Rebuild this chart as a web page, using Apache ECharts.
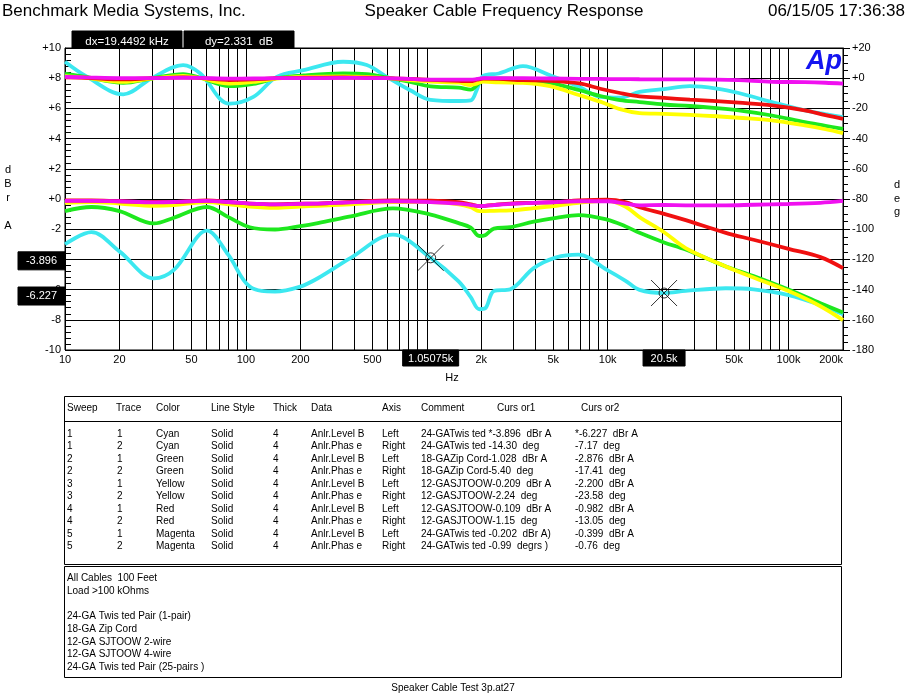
<!DOCTYPE html>
<html><head><meta charset="utf-8">
<script src="https://cdn.jsdelivr.net/npm/echarts@6/dist/echarts.min.js"></script>
<style>html,body{margin:0;padding:0;background:#fff}#c{width:907px;height:698px}</style>
</head><body><div id="c"></div>
<script>
// ---------- DATA ----------
const levelFreq = [10, 14, 20, 31, 40, 61, 80, 105, 145, 200, 250, 380, 650, 1050, 1500, 1750, 1950, 2100, 2350, 2900, 3900, 5200, 6900, 9900, 12500, 15000, 20500, 27000, 45000, 64000, 100000, 150000, 200000];
const cyanLevel    = [-3.0, -2.2, -3.47, -5.25, -4.69, -2.1, -3.7, -5.8, -6.13, -5.8, -5.25, -3.9, -2.36, -3.896, -5.45, -6.5, -7.3, -7.25, -6.1, -5.98, -4.58, -3.87, -3.69, -4.69, -5.4, -6.02, -6.227, -6.09, -5.91, -5.98, -6.36, -7.02, -7.64];
const greenLevel   = [-0.8, -0.53, -0.8, -1.62, -1.24, -0.53, -1.2, -1.87, -2.02, -1.8, -1.6, -1.15, -0.62, -1.028, -1.6, -1.9, -2.45, -2.4, -1.96, -1.87, -1.5, -1.25, -1.07, -1.36, -1.8, -2.24, -2.876, -3.35, -4.47, -5.1, -6.0, -6.9, -7.51];
const yellowLevel  = [-0.25, -0.2, -0.3, -0.45, -0.4, -0.2, -0.35, -0.5, -0.58, -0.5, -0.45, -0.35, -0.2, -0.209, -0.35, -0.55, -0.8, -0.8, -0.78, -0.76, -0.6, -0.45, -0.25, -0.13, -0.5, -1.2, -2.2, -3.25, -4.47, -5.2, -6.1, -7.1, -8.02];
const redLevel     = [-0.1, -0.1, -0.15, -0.2, -0.2, -0.1, -0.2, -0.3, -0.35, -0.3, -0.3, -0.2, -0.1, -0.109, -0.2, -0.35, -0.47, -0.45, -0.4, -0.3, -0.25, -0.2, -0.1, -0.05, -0.2, -0.55, -0.982, -1.4, -2.24, -2.7, -3.3, -3.85, -4.58];
const magentaLevel = [-0.13, -0.12, -0.15, -0.22, -0.2, -0.12, -0.2, -0.3, -0.35, -0.32, -0.3, -0.22, -0.15, -0.202, -0.3, -0.4, -0.47, -0.45, -0.4, -0.32, -0.25, -0.2, -0.15, -0.15, -0.3, -0.42, -0.399, -0.42, -0.42, -0.38, -0.33, -0.25, -0.13];

const phaseFreq = [10, 13, 21, 30, 45, 56, 81, 110, 148, 208, 345, 466, 600, 810, 1050, 1500, 1750, 1900, 2050, 2500, 3400, 4800, 7000, 9100, 11700, 15000, 20500, 28500, 40000, 53000, 81000, 123000, 160000, 200000];
const cyanPhase    = [10.9, 1.5, -10.7, -0.2, 8.7, 3.1, -16.9, -12.4, 0.9, 5.3, 10.9, 8.7, 0.9, -8, -14.3, -15.1, -14.7, -7, 1.5, 3.1, 8, 2, -5.8, -12.4, -12.9, -9.1, -7.17, -5.3, -6.9, -9.8, -15.8, -21.3, -23.8, -25.8];
const greenPhase   = [3.1, 0.8, -3.1, -0.2, 2.7, 0.3, -5.3, -3.8, 0, 1.8, 3.1, 2.7, 0.5, -2.5, -5.4, -6.2, -7.6, -4.5, -1.3, -0.2, -0.9, -3.1, -8, -11.8, -14.5, -15.8, -17.41, -18.4, -19.8, -21.3, -24.7, -29.1, -31.5, -33.6];
const yellowPhase  = [1.3, 0.3, -2.4, -0.3, 1.5, 0, -3.5, -2.5, -0.2, 0.8, 1.2, 0.8, 0, -1.2, -2.24, -3.0, -4.5, -3.5, -2.2, -2.8, -3.1, -5.3, -11.3, -15.5, -20.5, -23.1, -23.58, -24.3, -25.2, -26.2, -28, -31.3, -33.8, -36.4];
const redPhase     = [0.5, 0.3, -0.8, 0, 0.5, 0.2, -1.2, -0.8, 0, 0.3, 0.5, 0.3, 0, -0.5, -1.15, -1.8, -2.0, -1.0, -0.3, -0.5, -1.3, -1.7, -3.5, -7, -9.8, -12, -13.05, -14.2, -15.2, -16.2, -18, -21.3, -24.5, -26.9];
const magentaPhase = [0.9, 0.5, 0, 0, 0.3, 0.2, -0.3, -0.2, 0, 0, 0.2, 0.1, 0, -0.5, -0.99, -1.0, -1.0, -0.5, 0, 0, 0, -0.2, -0.4, -0.5, -0.6, -0.7, -0.76, -0.8, -0.9, -1.3, -2.4, -2.6, -3.0, -3.6];

const gridFreqs = [10, 20, 30, 40, 50, 60, 70, 80, 90, 100, 200, 300, 400, 500, 600, 700, 800, 900, 1000, 2000, 3000, 4000, 5000, 6000, 7000, 8000, 9000, 10000, 20000, 30000, 40000, 50000, 60000, 70000, 80000, 90000, 100000, 200000];
const xLabelFreqs = [10, 20, 50, 100, 200, 500, 1000, 2000, 5000, 10000, 20000, 50000, 100000, 200000];
const xLabelTexts = ['10', '20', '50', '100', '200', '500', '1k', '2k', '5k', '10k', '20k', '50k', '100k', '200k'];

const cursorFreq = [1050.75, 20500];
const cursorLevel = [-3.896, -6.227];
const cursorFreqText = ['1.05075k', '20.5k'];
const cursorLevelText = ['-3.896', '-6.227'];
const deltaTexts = ['dx=19.4492 kHz', 'dy=2.331  dB'];

const titleLeft = 'Benchmark Media Systems, Inc.';
const titleCenter = 'Speaker Cable Frequency Response';
const titleRight = '06/15/05 17:36:38';
const footer = 'Speaker Cable Test 3p.at27';

const tableHeader = ['Sweep', 'Trace', 'Color', 'Line Style', 'Thick', 'Data', 'Axis', 'Comment', 'Curs or1', 'Curs or2'];
const tableSweep = ['1', '1', '2', '2', '3', '3', '4', '4', '5', '5'];
const tableTrace = ['1', '2', '1', '2', '1', '2', '1', '2', '1', '2'];
const tableColor = ['Cyan', 'Cyan', 'Green', 'Green', 'Yellow', 'Yellow', 'Red', 'Red', 'Magenta', 'Magenta'];
const tableStyle = ['Solid', 'Solid', 'Solid', 'Solid', 'Solid', 'Solid', 'Solid', 'Solid', 'Solid', 'Solid'];
const tableThick = ['4', '4', '4', '4', '4', '4', '4', '4', '4', '4'];
const tableData = ['Anlr.Level B', 'Anlr.Phas e', 'Anlr.Level B', 'Anlr.Phas e', 'Anlr.Level B', 'Anlr.Phas e', 'Anlr.Level B', 'Anlr.Phas e', 'Anlr.Level B', 'Anlr.Phas e'];
const tableAxis = ['Left', 'Right', 'Left', 'Right', 'Left', 'Right', 'Left', 'Right', 'Left', 'Right'];
const tableComment = ['24-GATwis ted *-3.896  dBr A', '24-GATwis ted -14.30  deg', '18-GAZip Cord-1.028  dBr A', '18-GAZip Cord-5.40  deg', '12-GASJTOOW-0.209  dBr A', '12-GASJTOOW-2.24  deg', '12-GASJTOOW-0.109  dBr A', '12-GASJTOOW-1.15  deg', '24-GATwis ted -0.202  dBr A)', '24-GATwis ted -0.99  degrs )'];
const tableCursor2 = ['*-6.227  dBr A', '-7.17  deg', '-2.876  dBr A', '-17.41  deg', '-2.200  dBr A', '-23.58  deg', '-0.982  dBr A', '-13.05  deg', '-0.399  dBr A', '-0.76  deg'];
const notes = ['All Cables  100 Feet', 'Load >100 kOhms', '', '24-GA Twis ted Pair (1-pair)', '18-GA Zip Cord', '12-GA SJTOOW 2-wire', '12-GA SJTOOW 4-wire', '24-GA Twis ted Pair (25-pairs )'];

// ---------- CHART ----------
const FONT = '"Liberation Sans", Arial, sans-serif';
const L = f => Math.log10(f);
const pairs = (fs, vs) => fs.map((f, i) => [L(f), vs[i]]);
const COLORS = {cyan: '#3ce8f0', green: '#1ee81e', yellow: '#ffff00', red: '#f01010', magenta: '#f010f0'};
const signFmt = v => (v >= 0 ? '+' + v : String(v));

function curve(name, fs, vs, color, axis) {
  return {
    name, type: 'line', yAxisIndex: axis, data: pairs(fs, vs),
    showSymbol: false, symbol: 'none', smooth: 0.35, z: 10,
    lineStyle: {color, width: 3.8}, itemStyle: {color}, silent: true
  };
}

const chart = echarts.init(document.getElementById('c'), null, {renderer: 'canvas'});
const option = {
  animation: false,
  backgroundColor: '#fff',
  grid: {left: 65, top: 48, width: 778, height: 302, show: true, borderColor: '#000', borderWidth: 1, backgroundColor: 'transparent'},
  xAxis: {
    type: 'value', min: 1, max: L(200000),
    axisLine: {show: true, lineStyle: {color: '#000', width: 1}},
    axisTick: {show: false}, splitLine: {show: false},
    axisLabel: {
      customValues: xLabelFreqs.map(L),
      formatter: v => { const i = xLabelFreqs.findIndex(f => Math.abs(L(f) - v) < 1e-6); return i >= 0 ? xLabelTexts[i] : ''; },
      color: '#000', fontSize: 11, fontFamily: FONT, margin: 4, alignMaxLabel: 'right'
    }
  },
  yAxis: [
    {
      type: 'value', min: -10, max: 10, interval: 2, position: 'left',
      axisLine: {show: true, lineStyle: {color: '#000'}},
      axisTick: {show: true, inside: true, length: 6, lineStyle: {color: '#000'}},
      minorTick: {show: true, splitNumber: 5, length: 6, lineStyle: {color: '#000'}},
      splitLine: {show: true, lineStyle: {color: '#000', width: 1}},
      axisLabel: {formatter: signFmt, color: '#000', fontSize: 11, fontFamily: FONT, margin: 4}
    },
    {
      type: 'value', min: -180, max: 20, interval: 20, position: 'right',
      axisLine: {show: true, lineStyle: {color: '#000'}},
      axisTick: {show: true, length: 7, lineStyle: {color: '#000'}},
      minorTick: {show: true, splitNumber: 4, length: 5, lineStyle: {color: '#000'}},
      splitLine: {show: false},
      axisLabel: {formatter: signFmt, color: '#000', fontSize: 11, fontFamily: FONT, margin: 9}
    }
  ],
  series: [
    {
      name: 'grid', type: 'line', data: [], silent: true, z: 1,
      markLine: {
        silent: true, z: 1, symbol: ['none', 'none'], animation: false,
        label: {show: false}, lineStyle: {color: '#000', width: 1, type: 'solid'},
        emphasis: {disabled: true},
        data: gridFreqs.map(f => ({xAxis: L(f)}))
      }
    },
    curve('cyanPhase', phaseFreq, cyanPhase, COLORS.cyan, 1),
    curve('greenPhase', phaseFreq, greenPhase, COLORS.green, 1),
    curve('yellowPhase', phaseFreq, yellowPhase, COLORS.yellow, 1),
    curve('redPhase', phaseFreq, redPhase, COLORS.red, 1),
    curve('magentaPhase', phaseFreq, magentaPhase, COLORS.magenta, 1),
    curve('cyanLevel', levelFreq, cyanLevel, COLORS.cyan, 0),
    curve('greenLevel', levelFreq, greenLevel, COLORS.green, 0),
    curve('yellowLevel', levelFreq, yellowLevel, COLORS.yellow, 0),
    curve('redLevel', levelFreq, redLevel, COLORS.red, 0),
    curve('magentaLevel', levelFreq, magentaLevel, COLORS.magenta, 0),
    {
      name: 'cursorCircle', type: 'scatter', yAxisIndex: 0, z: 20, silent: true,
      data: pairs(cursorFreq, cursorLevel), symbol: 'circle', symbolSize: 10,
      itemStyle: {color: 'rgba(0,0,0,0)', borderColor: '#000', borderWidth: 1}
    },
    {
      name: 'cursorCross', type: 'scatter', yAxisIndex: 0, z: 20, silent: true,
      data: pairs(cursorFreq, cursorLevel), symbol: 'path://M0,0L10,10M10,0L0,10', symbolSize: 26,
      itemStyle: {color: 'rgba(0,0,0,0)', borderColor: '#000', borderWidth: 1}
    }
  ]
};
chart.setOption(option);

// ---------- TEXT / ANNOTATIONS ----------
const g = [];
const txt = (text, x, y, o = {}) => g.push({
  type: 'text', x, y, z: o.z || 50, silent: true,
  style: Object.assign({text, fill: '#000', fontSize: 10, fontFamily: FONT, align: 'left', verticalAlign: 'middle'}, o.style || {})
});
const box = (x, y, w, h, o = {}) => g.push({
  type: 'rect', z: o.z || 40, silent: true, shape: {x, y, width: w, height: h},
  style: Object.assign({fill: 'none', stroke: '#000', lineWidth: 1}, o.style || {})
});

// header
txt(titleLeft, 2, 11, {style: {fontSize: 17}});
txt(titleCenter, 504, 11, {style: {fontSize: 17, align: 'center'}});
txt(titleRight, 905, 11, {style: {fontSize: 17, align: 'right'}});

// delta boxes
box(72, 31, 110, 17, {z: 60, style: {fill: '#000', stroke: '#000'}});
box(184, 31, 110, 17, {z: 60, style: {fill: '#000', stroke: '#000'}});
txt(deltaTexts[0], 127, 42, {z: 61, style: {fill: '#fff', fontSize: 11.5, align: 'center'}});
txt(deltaTexts[1], 239, 42, {z: 61, style: {fill: '#fff', fontSize: 11.5, align: 'center'}});

// Ap logo
txt('Ap', 806, 62, {z: 60, style: {fill: '#1414f0', fontSize: 27, fontWeight: 'bold', fontStyle: 'italic'}});

// axis titles
['d', 'B', 'r'].forEach((c, i) => txt(c, 8, 170 + i * 14, {style: {fontSize: 11, align: 'center'}}));
txt('A', 8, 226, {style: {fontSize: 11, align: 'center'}});
['d', 'e', 'g'].forEach((c, i) => txt(c, 897, 185 + i * 13.5, {style: {fontSize: 11, align: 'center'}}));
txt('Hz', 452, 378, {style: {fontSize: 11, align: 'center'}});

// cursor readout boxes
const xBoxW = [56, 42];
cursorFreq.forEach((f, i) => {
  const p = chart.convertToPixel({gridIndex: 0}, [L(f), cursorLevel[i]]);
  box(p[0] - xBoxW[i] / 2, 350, xBoxW[i], 16, {z: 60, style: {fill: '#000', stroke: '#000'}});
  txt(cursorFreqText[i], p[0], 358.5, {z: 61, style: {fill: '#fff', fontSize: 11, align: 'center'}});
  box(18, p[1] - 6, 47, 18, {z: 60, style: {fill: '#000', stroke: '#000'}});
  txt(cursorLevelText[i], 41.5, p[1] + 3, {z: 61, style: {fill: '#fff', fontSize: 11, align: 'center'}});
});

// table
box(64.5, 396.5, 777, 168);
g.push({type: 'line', z: 40, silent: true, shape: {x1: 64.5, y1: 421.5, x2: 841.5, y2: 421.5}, style: {stroke: '#000', lineWidth: 1}});
const headerX = [67, 116, 156, 211, 273, 311, 382, 421, 497, 581];
tableHeader.forEach((h, i) => txt(h, headerX[i], 408.5));
const rowCols = [tableSweep, tableTrace, tableColor, tableStyle, tableThick, tableData, tableAxis, tableComment, tableCursor2];
const colX = [67, 117, 156, 211, 273, 311, 382, 421, 575];
for (let r = 0; r < tableSweep.length; r++) {
  const y = 434 + r * 12.52;
  rowCols.forEach((col, c) => txt(col[r], colX[c], y));
}

// notes box
box(64.5, 566.5, 777, 111);
notes.forEach((n, i) => { if (n) txt(n, 67, 578.3 + i * 12.7); });

// footer
txt(footer, 453, 688, {style: {align: 'center'}});

chart.setOption({graphic: {elements: g}});
</script>
</body></html>
